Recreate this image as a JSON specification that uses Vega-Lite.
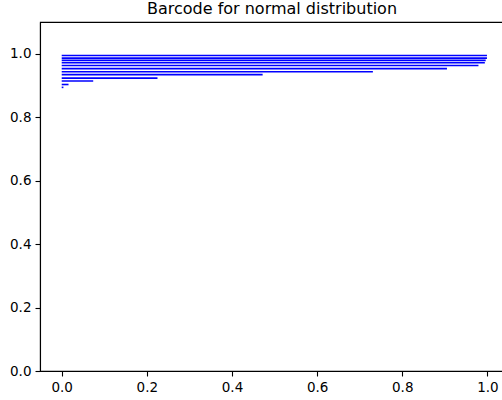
{
  "$schema": "https://vega.github.io/schema/vega-lite/v6.json",
  "autosize": "none",
  "padding": {"left": 40, "top": 22, "right": 0, "bottom": 29},
  "width": 464,
  "height": 349,
  "background": "white",
  "title": {
    "text": "Barcode for normal distribution",
    "font": "DejaVu Sans",
    "fontSize": 16,
    "fontWeight": "normal",
    "color": "black",
    "anchor": "middle",
    "offset": 5
  },
  "config": {
    "view": {"stroke": "black", "strokeWidth": 1.1},
    "axis": {
      "labelFont": "DejaVu Sans",
      "labelFontSize": 13.5,
      "labelColor": "black",
      "domainColor": "black",
      "domainWidth": 1.1,
      "tickColor": "black",
      "tickWidth": 1.1,
      "tickSize": 5,
      "labelPadding": 4,
      "grid": false,
      "title": null
    }
  },
  "data": {
    "values": [
      {"y": 0.9946, "x": 0.999},
      {"y": 0.986, "x": 0.999},
      {"y": 0.979, "x": 0.996},
      {"y": 0.9716, "x": 0.994},
      {"y": 0.963, "x": 0.979},
      {"y": 0.953, "x": 0.905},
      {"y": 0.943, "x": 0.731},
      {"y": 0.934, "x": 0.472},
      {"y": 0.923, "x": 0.225},
      {"y": 0.914, "x": 0.074},
      {"y": 0.903, "x": 0.016},
      {"y": 0.894, "x": 0.004}
    ]
  },
  "mark": {"type": "rule", "color": "#0000ff", "strokeWidth": 1.6, "strokeCap": "butt"},
  "encoding": {
    "x": {
      "field": "x",
      "type": "quantitative",
      "scale": {"domain": [-0.051, 1.039], "nice": false, "zero": false},
      "axis": {"values": [0, 0.2, 0.4, 0.6, 0.8, 1.0], "format": ".1f"}
    },
    "x2": {"datum": 0},
    "y": {
      "field": "y",
      "type": "quantitative",
      "scale": {"domain": [0, 1.1], "nice": false},
      "axis": {"values": [0, 0.2, 0.4, 0.6, 0.8, 1.0], "format": ".1f"}
    }
  }
}
